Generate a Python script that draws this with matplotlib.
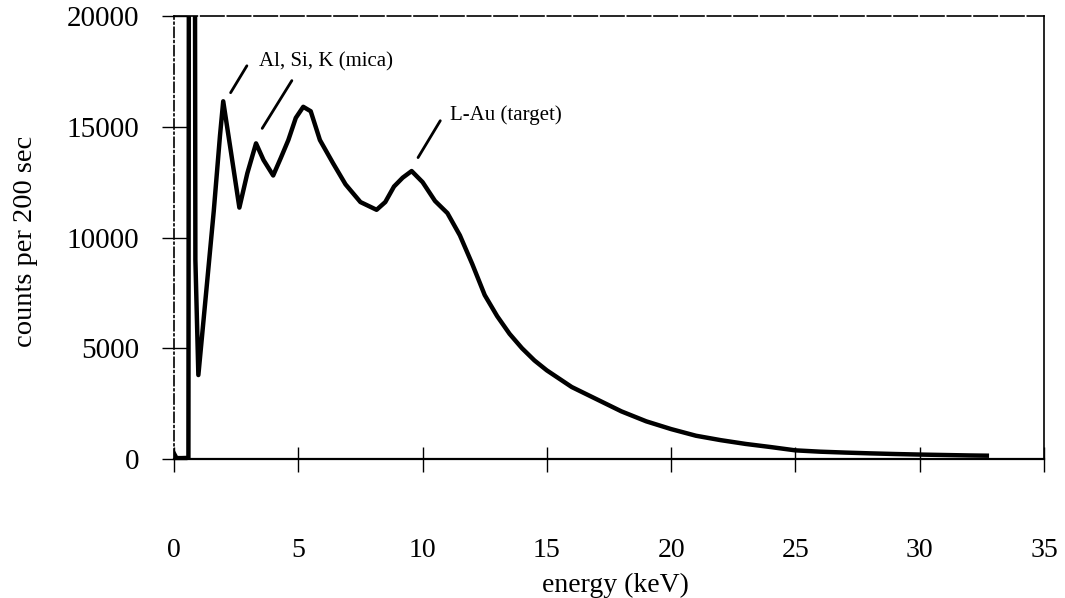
import numpy as np
import matplotlib.pyplot as plt

plt.rcParams['font.family'] = ['Liberation Serif', 'DejaVu Serif']

# spectrum (energy in keV, counts per 200 s)
energy = [0.0, 0.1, 0.3, 0.58, 0.6, 0.84, 0.86, 0.98,
          1.3, 1.6, 1.85, 1.98, 2.3, 2.63, 2.95, 3.3, 3.6, 3.99,
          4.3, 4.6, 4.9, 5.2, 5.5, 5.87, 6.4, 6.9, 7.5, 8.15, 8.5,
          8.85, 9.2, 9.56, 10.0, 10.5, 11.0, 11.5, 12.0, 12.5, 13.0,
          13.5, 14.0, 14.5, 15.0, 16.0, 17.0, 18.0, 19.0, 20.0, 21.0,
          22.0, 23.0, 24.0, 25.0, 26.0, 27.0, 28.0, 29.0, 30.0, 31.0,
          32.0, 32.7]
counts = [250, 40, 40, 50, 25000, 25000, 9000, 3790,
          7600, 11200, 14600, 16150, 13800, 11350, 12900, 14250, 13500, 12800,
          13600, 14400, 15400, 15900, 15700, 14400, 13350, 12400, 11600, 11250, 11600,
          12300, 12700, 13000, 12500, 11650, 11100, 10100, 8800, 7400, 6450,
          5650, 5000, 4450, 4000, 3250, 2700, 2150, 1700, 1350, 1050,
          850, 680, 540, 390, 330, 290, 255, 225, 200, 180,
          160, 150]

xticks = [0, 5, 10, 15, 20, 25, 30, 35]
yticks = [0, 5000, 10000, 15000, 20000]

fig = plt.figure(figsize=(10.65, 5.98), dpi=100)
ax = fig.add_axes([174 / 1065, 1 - 459 / 598, 870 / 1065, 443 / 598])

ax.plot(energy, counts, color='black', lw=3.2, solid_joinstyle='round')

ax.set_xlim(0, 35)
ax.set_ylim(0, 20000)
ax.set_xticks(xticks)
ax.set_yticks(yticks)
ax.tick_params(axis='both', direction='inout', length=18, width=1, colors='black')
ax.tick_params(axis='y', labelsize=21, pad=16)
ax.tick_params(axis='x', labelsize=20, pad=48)

ax.spines['left'].set_linestyle((0, (6, 2, 1, 2)))
ax.spines['top'].set_linestyle((0, (14, 2)))
for s in ax.spines.values():
    s.set_linewidth(1.2)
ax.spines['bottom'].set_linewidth(1.6)

ax.set_xlabel('energy (keV)', fontsize=20, va='center')
ax.xaxis.set_label_coords(0.507, -0.285)
ax.set_ylabel('counts per 200 sec', fontsize=20.5, va='center')
ax.yaxis.set_label_coords(-0.171, 0.492)

# peak labels with short leader lines
ax.text(3.42, 17920, 'Al, Si, K (mica)', fontsize=15, va='center')
ax.annotate('', xy=(2.22, 16430), xytext=(2.99, 17860),
            arrowprops=dict(arrowstyle='-', lw=2, color='black'))
ax.annotate('', xy=(3.49, 14820), xytext=(4.80, 17190),
            arrowprops=dict(arrowstyle='-', lw=2, color='black'))
ax.text(11.1, 15530, 'L-Au (target)', fontsize=15, va='center')
ax.annotate('', xy=(9.76, 13500), xytext=(10.77, 15380),
            arrowprops=dict(arrowstyle='-', lw=2, color='black'))

fig.savefig('out.png', dpi=100)
